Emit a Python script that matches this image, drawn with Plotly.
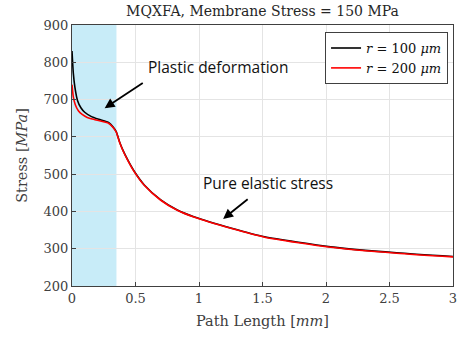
import plotly.graph_objects as go

# Data
x_r100 = [0.0, 0.01, 0.023, 0.044, 0.07, 0.1, 0.15, 0.21, 0.29, 0.322, 0.348, 0.374, 0.4,
          0.439, 0.491, 0.569, 0.699, 0.829, 0.959, 1.257, 1.517, 2.037, 2.556, 3.0]
y_r100 = [830, 772, 733, 697, 678, 666, 655, 647, 638, 627, 614, 587, 565,
          538, 507, 471, 431, 404, 386, 355, 332, 305, 289, 279]
x_r200 = [0.0, 0.01, 0.026, 0.05, 0.08, 0.12, 0.18, 0.29, 0.322, 0.348, 0.374, 0.4,
          0.439, 0.491, 0.569, 0.699, 0.829, 0.959, 1.257, 1.517, 2.037, 2.556, 3.0]
y_r200 = [740, 708, 686, 670, 660, 652, 646, 636, 626, 613, 586, 564,
          537, 506, 470, 430, 403, 385, 354, 331, 304, 288, 278]
plastic_limit = 0.35
x_ticks = [0, 0.5, 1, 1.5, 2, 2.5, 3]
y_ticks = [200, 300, 400, 500, 600, 700, 800, 900]

serif = "DejaVu Serif, serif"
sans = "Open Sans, sans-serif"
fig = go.Figure()
fig.add_trace(go.Scatter(x=x_r100, y=y_r100, mode="lines",
                         line=dict(color="black", width=1.6, shape="spline", smoothing=0.6),
                         name="<i>r</i> = 100 <i>μm</i>"))
fig.add_trace(go.Scatter(x=x_r200, y=y_r200, mode="lines",
                         line=dict(color="#ff0000", width=1.6, shape="spline", smoothing=0.6),
                         name="<i>r</i> = 200 <i>μm</i>"))

fig.add_shape(type="rect", xref="x", yref="paper", x0=0, x1=plastic_limit, y0=0, y1=1,
              fillcolor="#c8ecf8", line_width=0, layer="below")

fig.add_annotation(x=0.257, y=677, ax=0.569, ay=747, xref="x", yref="y", axref="x", ayref="y",
                   showarrow=True, arrowhead=2, arrowsize=1.1, arrowwidth=1.8, arrowcolor="black", text="")
fig.add_annotation(x=0.585, y=787, xref="x", yref="y", text="Plastic deformation", showarrow=False,
                   xanchor="left", yanchor="middle", font=dict(family=sans, size=15.5, color="#111"))
fig.add_annotation(x=1.19, y=380, ax=1.395, ay=436, xref="x", yref="y", axref="x", ayref="y",
                   showarrow=True, arrowhead=2, arrowsize=1.1, arrowwidth=1.8, arrowcolor="black", text="")
fig.add_annotation(x=1.013, y=476, xref="x", yref="y", text="Pure elastic stress", showarrow=False,
                   xanchor="left", yanchor="middle", font=dict(family=sans, size=15.5, color="#111"))

axis_common = dict(showline=True, linecolor="#404040", linewidth=1, mirror=True, ticks="inside", ticklen=4,
                   tickcolor="#404040", showgrid=True, gridcolor="#e4e4e4", gridwidth=1, zeroline=False,
                   tickfont=dict(family=serif, size=13, color="#404040"))
fig.update_xaxes(range=[0, 3], tickvals=x_ticks, ticktext=[str(v) for v in x_ticks],
                 title=dict(text="Path Length [<i>mm</i>]", font=dict(family=serif, size=14.5, color="#404040"),
                            standoff=11),
                 **axis_common)
fig.update_yaxes(range=[200, 900], tickvals=y_ticks,
                 title=dict(text="Stress [<i>MPa</i>]", font=dict(family=serif, size=14.5, color="#404040"),
                            standoff=12),
                 **axis_common)
fig.update_layout(
    width=464, height=337, margin=dict(l=72, r=7, t=25, b=51),
    plot_bgcolor="white", paper_bgcolor="white",
    title=dict(text="MQXFA, Membrane Stress = 150 MPa", x=0.5, xref="paper", xanchor="center",
               y=0.982, yanchor="top", font=dict(family=serif, size=14, color="#262626")),
    legend=dict(x=0.987, y=0.973, xanchor="right", yanchor="top", bordercolor="#404040", borderwidth=1,
                bgcolor="white", font=dict(family=serif, size=13, color="#111"), tracegroupgap=0,
                itemwidth=30),
    showlegend=True,
)
fig.write_html("out.html")
